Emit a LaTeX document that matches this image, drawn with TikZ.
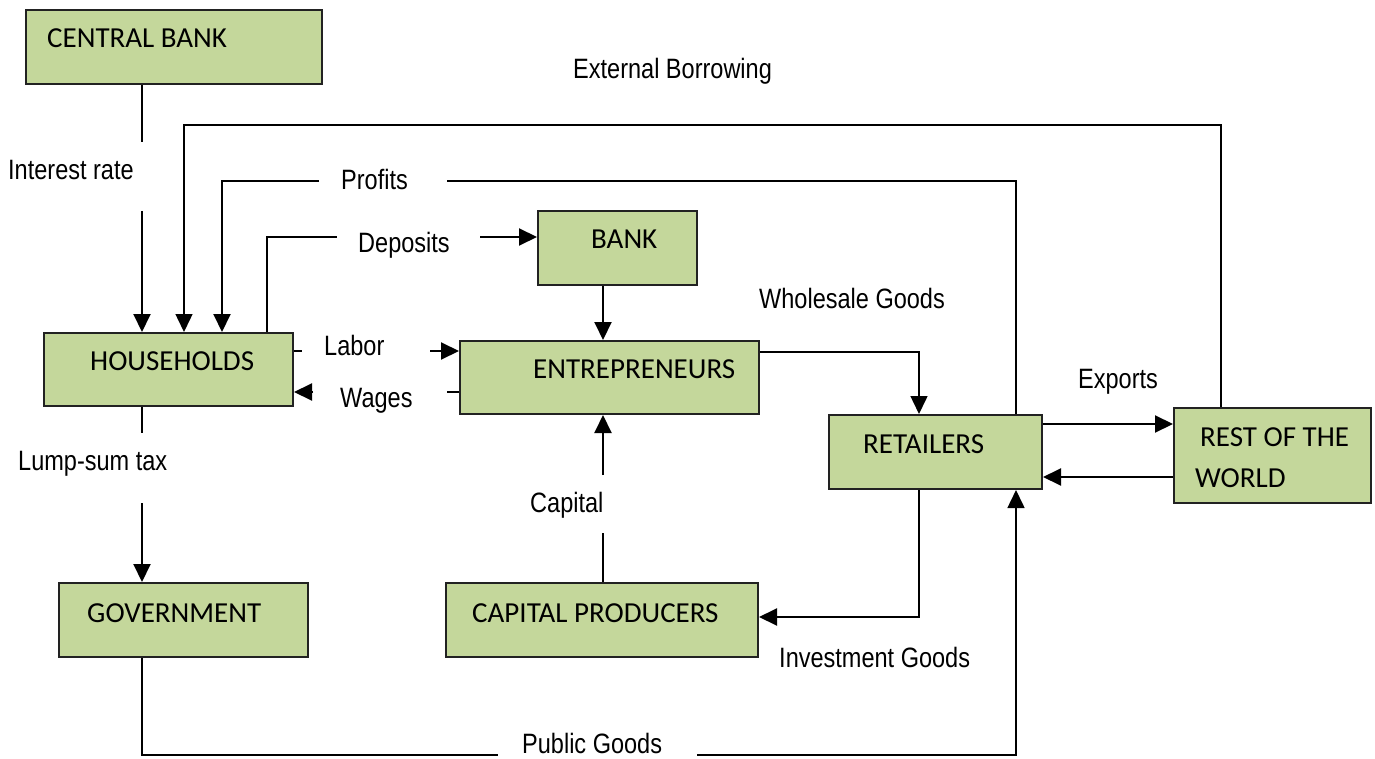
\documentclass[tikz,border=0pt]{standalone}
\usepackage{fontspec}
\usetikzlibrary{arrows.meta}
\newfontfamily\boxfont{Carlito}
\newfontfamily\lblfont[FakeStretch=0.84]{Liberation Sans}
\definecolor{boxgreen}{HTML}{C4D79B}
\definecolor{boxline}{HTML}{222222}
\tikzset{
  box/.style={draw=boxline, fill=boxgreen, line width=2pt, rectangle, inner sep=0pt, anchor=north west},
  boxtxt/.style={anchor=base west, inner sep=0pt, font=\boxfont\fontsize{29}{29}\selectfont},
  lbl/.style={anchor=base west, inner sep=0pt, font=\lblfont\fontsize{28}{28}\selectfont},
  conn/.style={line width=2pt, draw=black},
  thinconn/.style={line width=1.5pt, draw=black},
  tip/.style={-{Triangle[length=18pt,width=17pt]}}
}
\begin{document}
\begin{tikzpicture}[x=1pt,y=-1pt]
\useasboundingbox (0,0) rectangle (1375,759);
% boxes
\node[box, minimum width=296pt, minimum height=74pt] (cb) at (25,9) {};
\node[box, minimum width=249pt, minimum height=73pt] (hh) at (43,332) {};
\node[box, minimum width=159pt, minimum height=74pt] (bank) at (537,210) {};
\node[box, minimum width=299pt, minimum height=73pt] (ent) at (459,340) {};
\node[box, minimum width=213pt, minimum height=74pt] (ret) at (828,414) {};
\node[box, minimum width=197pt, minimum height=95pt] (row) at (1173,407) {};
\node[box, minimum width=249pt, minimum height=74pt] (gov) at (58,582) {};
\node[box, minimum width=312pt, minimum height=74pt] (cp) at (445,582) {};
% box texts
\node[boxtxt] (tcb) at (47,48) {CENTRAL BANK};
\node[boxtxt] (thh) at (90,370) {HOUSEHOLDS};
\node[boxtxt] (tbank) at (591,249) {BANK};
\node[boxtxt] (tent) at (533,378) {ENTREPRENEURS};
\node[boxtxt] (tret) at (863,453) {RETAILERS};
\node[boxtxt] (trow1) at (1200,446) {REST OF THE};
\node[boxtxt] (trow2) at (1195,487) {WORLD};
\node[boxtxt] (tgov) at (87,622) {GOVERNMENT};
\node[boxtxt] (tcp) at (472,622) {CAPITAL PRODUCERS};
% labels
\node[lbl] (lir) at (8,180) {Interest rate};
\node[lbl] (leb) at (573,79) {External Borrowing};
\node[lbl] (lpr) at (341,190) {Profits};
\node[lbl] (ldep) at (358,253) {Deposits};
\node[lbl] (llab) at (324,355) {Labor};
\node[lbl] (lwag) at (340,407) {Wages};
\node[lbl] (lws) at (759,308) {Wholesale Goods};
\node[lbl] (lexp) at (1078,388) {Exports};
\node[lbl] (llst) at (18,470) {Lump-sum tax};
\node[lbl] (lcap) at (530,512) {Capital};
\node[lbl] (linv) at (779,667) {Investment Goods};
\node[lbl] (lpg) at (522,753) {Public Goods};
% bend / gap coordinates
\coordinate (ir1) at (142,142); \coordinate (ir2) at (142,211);
\coordinate (eb1) at (1221,125); \coordinate (eb2) at (184,125);
\coordinate (p1) at (1016,181); \coordinate (p2) at (447,181);
\coordinate (p3) at (319,181); \coordinate (p4) at (222,181);
\coordinate (d1) at (267,237); \coordinate (d2) at (337,237); \coordinate (d3) at (480,237);
\coordinate (l1) at (302,351); \coordinate (l2) at (430,351);
\coordinate (w1) at (447,392); \coordinate (w2) at (313,392);
\coordinate (be) at (603,300);
\coordinate (ws) at (919,352);
\coordinate (c1) at (603,533); \coordinate (c2) at (603,475);
\coordinate (t1) at (142,433); \coordinate (t2) at (142,503);
\coordinate (ig) at (919,617);
\coordinate (pg1) at (142,755); \coordinate (pg2) at (498,755);
\coordinate (pg3) at (697,755); \coordinate (pg4) at (1016,755);
\coordinate (x1) at (1100,424); \coordinate (x2) at (1100,477);
% connectors
\draw[conn] (cb.south -| ir1) -- (ir1);
\draw[conn, tip] (ir2) -- (ir2 |- hh.north);
\draw[thinconn, tip] (row.north -| eb1) -- (eb1) -- (eb2) -- (eb2 |- hh.north);
\draw[thinconn] (ret.north -| p1) -- (p1) -- (p2);
\draw[conn, tip] (p3) -- (p4) -- (p4 |- hh.north);
\draw[conn] (hh.north -| d1) -- (d1) -- (d2);
\draw[conn, tip] (d3) -- (d3 -| bank.west);
\draw[conn] (hh.east |- l1) -- (l1);
\draw[conn, tip] (l2) -- (l2 -| ent.west);
\draw[conn] (ent.west |- w1) -- (w1);
\draw[conn, tip] (w2) -- (w2 -| hh.east);
\draw[conn, tip] (bank.south -| be) -- (be |- ent.north);
\draw[thinconn, tip] (ent.east |- ws) -- (ws) -- (ws |- ret.north);
\draw[conn] (cp.north -| c1) -- (c1);
\draw[conn, tip] (c2) -- (c2 |- ent.south);
\draw[conn] (hh.south -| t1) -- (t1);
\draw[conn, tip] (t2) -- (t2 |- gov.north);
\draw[conn, tip] (ret.south -| ig) -- (ig) -- (ig -| cp.east);
\draw[thinconn] (gov.south -| pg1) -- (pg1) -- (pg2);
\draw[thinconn, tip] (pg3) -- (pg4) -- (pg4 |- ret.south);
\draw[conn, tip] (ret.east |- x1) -- (x1 -| row.west);
\draw[conn, tip] (row.west |- x2) -- (x2 -| ret.east);
\end{tikzpicture}
\end{document}
